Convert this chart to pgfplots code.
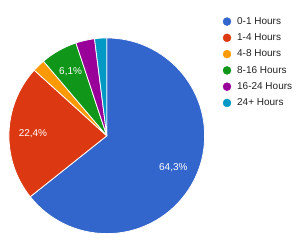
\documentclass[border=0pt]{standalone}
\usepackage{fontspec}
\setmainfont{Liberation Sans}
\usepackage{pgfplots}
\usepackage{pgfplotstable}
\pgfplotsset{compat=1.18}
\definecolor{c1}{HTML}{3366CC}
\definecolor{c2}{HTML}{DC3912}
\definecolor{c3}{HTML}{FF9900}
\definecolor{c4}{HTML}{109618}
\definecolor{c5}{HTML}{990099}
\definecolor{c6}{HTML}{0099C6}
\definecolor{legtext}{HTML}{222222}
\pgfplotstableread{
label value color
{0-1 Hours} 64.3 c1
{1-4 Hours} 22.4 c2
{4-8 Hours} 2.1 c3
{8-16 Hours} 6.1 c4
{16-24 Hours} 3.1 c5
{24+ Hours} 2.0 c6
}\data
\newcommand\cx{106.5}
\newcommand\cy{106}
\begin{document}
\begin{tikzpicture}
\begin{axis}[
  scale only axis, width=300bp, height=242bp,
  xmin=0, xmax=300, ymin=0, ymax=242,
  hide axis, clip=false,
  legend image code/.code={\fill[#1] (0bp,0bp) circle (4bp);},
  legend style={at={(axis cs:222.7,225.2)}, anchor=north west, draw=none, fill=none,
    inner sep=0pt, outer sep=0pt, row sep=6.7bp, column sep=6bp,
    font=\fontsize{10bp}{12bp}\selectfont, text=legtext,
    nodes={inner sep=0pt, outer sep=0pt, text height=7.5bp, text depth=2.1bp}},
  legend cell align=left,
]
\path (axis cs:0,0) rectangle (axis cs:300,242);
\pgfplotsextra{
  \gdef\cum{0}
  \pgfplotstablegetrowsof{\data}
  \pgfmathtruncatemacro\nrows{\pgfplotsretval-1}
  \foreach \i in {0,...,\nrows} {
    \pgfplotstablegetelem{\i}{value}\of{\data}\let\v\pgfplotsretval
    \pgfplotstablegetelem{\i}{color}\of{\data}\let\c\pgfplotsretval
    \pgfmathsetmacro\a{90-\cum*3.6}
    \pgfmathsetmacro\b{90-(\cum+\v)*3.6}
    \pgfmathsetmacro\m{90-(\cum+\v/2)*3.6}
    \fill[fill=\c, draw=white, line width=0.8bp, line join=round]
      (axis cs:\cx,\cy) -- ++(\a:98bp) arc[start angle=\a, end angle=\b, radius=98bp] -- cycle;
    \pgfmathparse{\v>5 ? 1 : 0}
    \ifnum\pgfmathresult=1
      \path (axis cs:\cx,\cy) ++(\m:74bp) node[text=white, inner sep=0pt, font=\fontsize{10bp}{12bp}\selectfont]
        {\pgfmathprintnumber[fixed, fixed zerofill, precision=1, use comma, assume math mode=true]{\v}\%};
    \fi
    \pgfmathsetmacro\newcum{\cum+\v}
    \xdef\cum{\newcum}
  }
}
\addlegendimage{c1}\addlegendentry{0-1 Hours}
\addlegendimage{c2}\addlegendentry{1-4 Hours}
\addlegendimage{c3}\addlegendentry{4-8 Hours}
\addlegendimage{c4}\addlegendentry{8-16 Hours}
\addlegendimage{c5}\addlegendentry{16-24 Hours}
\addlegendimage{c6}\addlegendentry{24+ Hours}
\end{axis}
\end{tikzpicture}
\end{document}
